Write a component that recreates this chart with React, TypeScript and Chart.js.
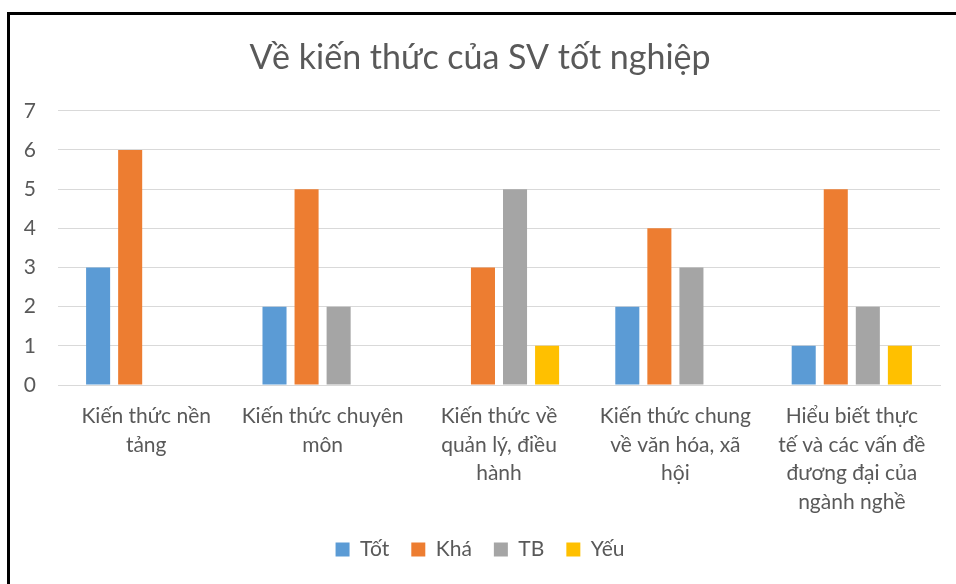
import React, { useEffect, useRef } from "react";
import { Chart, registerables } from "chart.js";

Chart.register(...registerables);

const categories: string[][] = [
  ["Kiến thức nền", "tảng"],
  ["Kiến thức chuyên", "môn"],
  ["Kiến thức về", "quản lý, điều", "hành"],
  ["Kiến thức chung", "về văn hóa, xã", "hội"],
  ["Hiểu biết thực", "tế và các vấn đề", "đương đại của", "ngành nghề"],
];

const seriesNames = ["Tốt", "Khá", "TB", "Yếu"];
const tot = [3, 2, 0, 2, 1];
const kha = [6, 5, 3, 4, 5];
const tb = [0, 2, 5, 3, 2];
const yeu = [0, 0, 1, 0, 1];
const seriesColors = ["#5b9bd5", "#ed7d31", "#a5a5a5", "#ffc000"];

const titleText = "Về kiến thức của SV tốt nghiệp";
const yMin = 0;
const yMax = 7;
const yStep = 1;

const FONT = "Lato, 'Open Sans', sans-serif";
const TEXT = "#595959";

export default function App() {
  const ref = useRef<HTMLCanvasElement | null>(null);

  useEffect(() => {
    if (!ref.current) return;
    const values = [tot, kha, tb, yeu];
    const chart = new Chart(ref.current, {
      type: "bar",
      data: {
        labels: categories,
        datasets: values.map((v, i) => ({
          label: seriesNames[i],
          data: v,
          backgroundColor: seriesColors[i],
          borderWidth: 0,
          categoryPercentage: 0.727,
          barPercentage: 0.75,
        })),
      },
      options: {
        animation: false,
        responsive: false,
        devicePixelRatio: 1,
        layout: { padding: { top: 38, left: 20, right: 16, bottom: 14 } },
        plugins: {
          title: {
            display: true,
            text: titleText,
            color: TEXT,
            font: { family: FONT, size: 34, weight: "normal" },
            padding: { top: 0, bottom: 32 },
          },
          legend: {
            position: "bottom",
            labels: {
              color: TEXT,
              font: { family: FONT, size: 21 },
              boxWidth: 14,
              boxHeight: 14,
              padding: 22,
            },
          },
          tooltip: { enabled: false },
        },
        scales: {
          x: {
            grid: { display: false, drawTicks: false },
            border: { color: "#d9d9d9", width: 1 },
            ticks: {
              color: TEXT,
              font: { family: FONT, size: 21, lineHeight: 1.36 },
              padding: 17,
              maxRotation: 0,
              autoSkip: false,
            },
            afterFit: (s: any) => {
              s.height = 132;
            },
          },
          y: {
            min: yMin,
            max: yMax,
            grid: { color: "#d9d9d9", drawTicks: false },
            border: { display: false },
            ticks: {
              stepSize: yStep,
              color: TEXT,
              font: { family: FONT, size: 21 },
              padding: 22,
            },
            afterFit: (s: any) => {
              s.width = 38;
            },
          },
        },
      },
    });
    return () => chart.destroy();
  }, []);

  return (
    <div style={{ position: "fixed", left: 0, top: 0, width: 956, height: 584, background: "#fff", overflow: "hidden" }}>
      <div
        style={{
          position: "absolute",
          left: 7,
          top: 12,
          width: 1200,
          height: 1200,
          borderLeft: "3px solid #000",
          borderTop: "3px solid #000",
        }}
      />
      <canvas ref={ref} width={956} height={584} style={{ position: "absolute", left: 0, top: 0 }} />
    </div>
  );
}
